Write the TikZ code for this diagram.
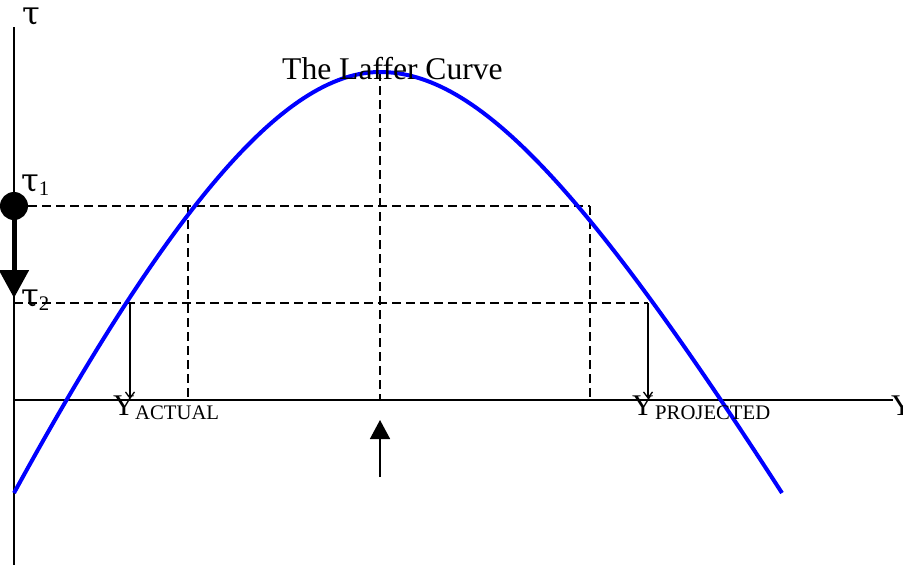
\documentclass[tikz,border=0pt]{standalone}
\usepackage{fontspec}
\setmainfont{Liberation Serif}
\newfontfamily\taufont{DejaVu Serif}
\usetikzlibrary{arrows.meta}
\tikzset{
  axis/.style={line width=1.5pt,black},
  guide/.style={line width=1.5pt,dash pattern=on 9pt off 5pt,black},
  laffer/.style={line width=4pt,blue,line join=round},
  lbl/.style={inner sep=0pt,anchor=base west},
  big/.style={font=\fontsize{30}{30}\selectfont},
  small/.style={font=\fontsize{20.7}{21}\selectfont},
  taus/.style={font=\taufont\fontsize{32}{32}\selectfont},
  thinarrow/.style={line width=1.3pt,-{Straight Barb[length=6pt,width=9pt]}},
}
\begin{document}
\begin{tikzpicture}[x=1pt,y=-1pt]
\useasboundingbox (0,0) rectangle (903,565);
% coordinates
\coordinate (top) at (14,27);
\coordinate (bot) at (14,565);
\coordinate (O) at (14,400);
\coordinate (xend) at (893,400);
\coordinate (t1) at (14,206);
\coordinate (t2) at (14,298);
\coordinate (t2a) at (14,303);
\coordinate (a1) at (188,206);
\coordinate (a1b) at (188,400);
\coordinate (p1) at (590,206);
\coordinate (p1b) at (590,400);
\coordinate (a2) at (130,303);
\coordinate (a2b) at (130,399);
\coordinate (p2) at (648,303);
\coordinate (p2b) at (648,399);
\coordinate (pk) at (380,72);
\coordinate (pkb) at (380,400);
\coordinate (upt) at (380,477);
\coordinate (uph) at (380,420);
\coordinate (cs) at (14,493);
\coordinate (ce) at (782,493);
% axes
\draw[axis] (top) -- (bot);
\draw[axis] (O) -- (xend);
% guides
\draw[guide] (t1) -- (p1);
\draw[guide] (a1) -- (a1b);
\draw[guide] (p1) -- (p1b);
\draw[guide] (t2a) -- (p2);
\draw[guide] (pk) -- (pkb);
\draw[thinarrow] (a2) -- (a2b);
\draw[thinarrow] (p2) -- (p2b);
% curve
\draw[laffer] (cs) .. controls (182,186) and (292,72) .. (pk) .. controls (477,72) and (584,186) .. (ce);
% tax movement
\fill[black] (t1) circle (14);
\draw[line width=5pt,-{Triangle[length=28pt,width=29pt]}] (t1) -- (t2);
\draw[line width=1.5pt,-{Triangle[length=19pt,width=20pt]}] (upt) -- (uph);
% labels
\node[lbl,taus] (tau) at (22,24) {τ};
\node[lbl,taus] (tau1) at (21,191) {τ\raisebox{-4pt}{\fontsize{20.7}{21}\selectfont\rmfamily 1}};
\node[lbl,taus] (tau2) at (21,306) {τ\raisebox{-4pt}{\fontsize{20.7}{21}\selectfont\rmfamily 2}};
\node[lbl,font=\fontsize{31.6}{32}\selectfont] (title) at (282,79) {The Laffer Curve};
\node[lbl,big] (ya) at (113,415) {Y};
\node[lbl,small] (yas) at (135,419) {ACTUAL};
\node[lbl,big] (yp) at (632,415) {Y};
\node[lbl,small] (yps) at (655,419) {PROJECTED};
\node[lbl,big] (yx) at (891,415) {Y};
\end{tikzpicture}
\end{document}
